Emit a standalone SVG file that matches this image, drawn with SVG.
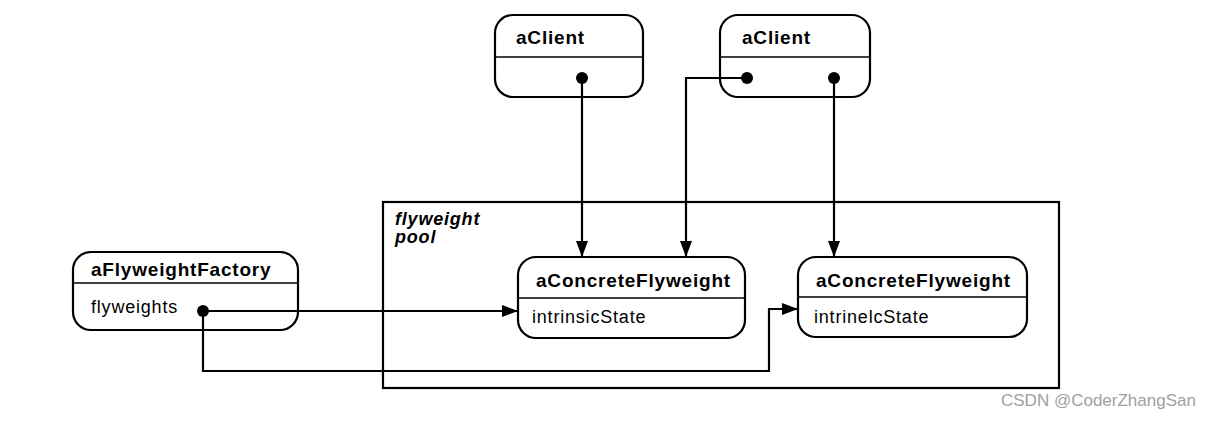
<svg xmlns="http://www.w3.org/2000/svg" width="1213" height="422" viewBox="0 0 1213 422">
<style>
.box{fill:#fff;stroke:#000;stroke-width:2.2}
.div{stroke:#000;stroke-width:1.6}
.title{font-family:"Liberation Sans",Arial,sans-serif;font-weight:bold;font-size:19px;letter-spacing:0.8px;fill:#000}
.attr{font-family:"Liberation Sans",Arial,sans-serif;font-size:18px;letter-spacing:0.8px;fill:#000}
.pool{font-family:"Liberation Sans",Arial,sans-serif;font-weight:bold;font-style:italic;font-size:18px;letter-spacing:0.8px;fill:#000}
.conn{fill:none;stroke:#000;stroke-width:2.2}
.dot{fill:#000}
</style>
<defs>
<marker id="arr" markerUnits="userSpaceOnUse" markerWidth="16" markerHeight="12" refX="16" refY="6" orient="auto">
<path d="M0,0 L16,6 L0,12 Z" fill="#000"/>
</marker>
</defs>
<rect width="1213" height="422" fill="#fff"/>
<g id="pool">
<rect x="383" y="202" width="676" height="186" fill="none" stroke="#000" stroke-width="2.2"/>
<text class="pool" x="395" y="225">flyweight</text>
<text class="pool" x="395" y="243">pool</text>
</g>
<g id="client1">
<rect class="box" x="495" y="15" width="148" height="82" rx="18"/>
<line class="div" x1="495" y1="57" x2="643" y2="57"/>
<text class="title" x="516" y="44">aClient</text>
</g>
<g id="client2">
<rect class="box" x="720" y="15" width="150" height="82" rx="18"/>
<line class="div" x1="720" y1="57" x2="870" y2="57"/>
<text class="title" x="742" y="44">aClient</text>
</g>
<g id="factory">
<rect class="box" x="73" y="252" width="225" height="78" rx="18"/>
<line class="div" x1="73" y1="283" x2="298" y2="283"/>
<text class="title" x="91" y="276">aFlyweightFactory</text>
<text class="attr" x="91" y="313">flyweights</text>
</g>
<g id="cf1">
<rect class="box" x="518" y="257" width="227" height="81" rx="18"/>
<line class="div" x1="518" y1="298" x2="745" y2="298"/>
<text class="title" x="536" y="287">aConcreteFlyweight</text>
<text class="attr" x="532" y="323">intrinsicState</text>
</g>
<g id="cf2">
<rect class="box" x="798" y="257" width="229" height="80" rx="18"/>
<line class="div" x1="798" y1="297" x2="1027" y2="297"/>
<text class="title" x="816" y="287">aConcreteFlyweight</text>
<text class="attr" x="814" y="323">intrinelcState</text>
</g>
<g id="connectors">
<path class="conn" d="M582,78 L582,257" marker-end="url(#arr)"/>
<path class="conn" d="M747,78 L686,78 L686,257" marker-end="url(#arr)"/>
<path class="conn" d="M834,78 L834,257" marker-end="url(#arr)"/>
<path class="conn" d="M203,311 L518,311" marker-end="url(#arr)"/>
<path class="conn" d="M203,311 L203,371 L769,371 L769,309 L798,309" marker-end="url(#arr)"/>
<circle class="dot" cx="582" cy="78" r="6"/>
<circle class="dot" cx="747" cy="78" r="6"/>
<circle class="dot" cx="834" cy="78" r="6"/>
<circle class="dot" cx="203" cy="311" r="6"/>
</g>
<text x="1001" y="406" font-family="Liberation Sans, Arial, sans-serif" font-size="17" fill="#a0a0a0">CSDN @CoderZhangSan</text>
</svg>
